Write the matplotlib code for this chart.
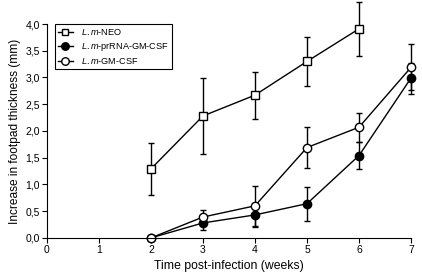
import matplotlib.pyplot as plt

plt.rcParams['font.family'] = ['Liberation Sans', 'DejaVu Sans']
plt.rcParams['mathtext.fontset'] = 'custom'
plt.rcParams['mathtext.it'] = 'Liberation Sans:italic'
plt.rcParams['mathtext.rm'] = 'Liberation Sans'

weeks = [2, 3, 4, 5, 6, 7]

neo_x = [2, 3, 4, 5, 6]
neo = [1.29, 2.28, 2.67, 3.30, 3.91]
neo_err = [0.49, 0.71, 0.44, 0.45, 0.51]

prrna = [0.0, 0.28, 0.43, 0.64, 1.54, 2.99]
prrna_err = [0.0, 0.13, 0.22, 0.32, 0.26, 0.29]

gmcsf = [0.0, 0.39, 0.60, 1.69, 2.07, 3.19]
gmcsf_err = [0.0, 0.14, 0.38, 0.39, 0.27, 0.43]

xticks = [0, 1, 2, 3, 4, 5, 6, 7]
yticks = [0.0, 0.5, 1.0, 1.5, 2.0, 2.5, 3.0, 3.5, 4.0]
ytick_labels = [f'{v:.1f}'.replace('.', ',') for v in yticks]

fig = plt.figure(figsize=(4.22, 2.76), dpi=100)
ax = fig.add_axes([0.111, 0.138, 0.863, 0.775])

style = dict(color='black', lw=1, capsize=2.2, elinewidth=1, capthick=1,
             markeredgewidth=1, markeredgecolor='black', clip_on=False)
e1 = ax.errorbar(neo_x, neo, yerr=neo_err, marker='s', markersize=5.5,
                 markerfacecolor='white', **style)
e2 = ax.errorbar(weeks, prrna, yerr=prrna_err, marker='o', markersize=6,
                 markerfacecolor='black', **style)
e3 = ax.errorbar(weeks, gmcsf, yerr=gmcsf_err, marker='o', markersize=6,
                 markerfacecolor='white', **style)

ax.set_xlim(0, 7)
ax.set_ylim(0, 4.0)
ax.set_xticks(xticks)
ax.set_yticks(yticks)
ax.set_yticklabels(ytick_labels)
ax.spines['top'].set_visible(False)
ax.spines['right'].set_visible(False)
ax.tick_params(labelsize=7.5, length=3.5, width=0.8, pad=1.5)
for s in ['left', 'bottom']:
    ax.spines[s].set_linewidth(0.8)
ax.set_xlabel('Time post-infection (weeks)', fontsize=8.8, labelpad=4)
ax.set_ylabel('Increase in footpad thickness (mm)', fontsize=8.6, labelpad=3)

labels = [r'$\it{L.m}$-NEO', r'$\it{L.m}$-prRNA-GM-CSF', r'$\it{L.m}$-GM-CSF']
leg = ax.legend([e1[0], e2[0], e3[0]], labels, loc='upper left',
                bbox_to_anchor=(0.022, 1.0), borderaxespad=0, fontsize=6.6,
                fancybox=False, edgecolor='black', framealpha=1,
                handlelength=1.6, handletextpad=0.9, borderpad=0.35,
                labelspacing=0.3, markerscale=0.9)
leg.get_frame().set_linewidth(0.8)

fig.savefig('out.png', dpi=100)
